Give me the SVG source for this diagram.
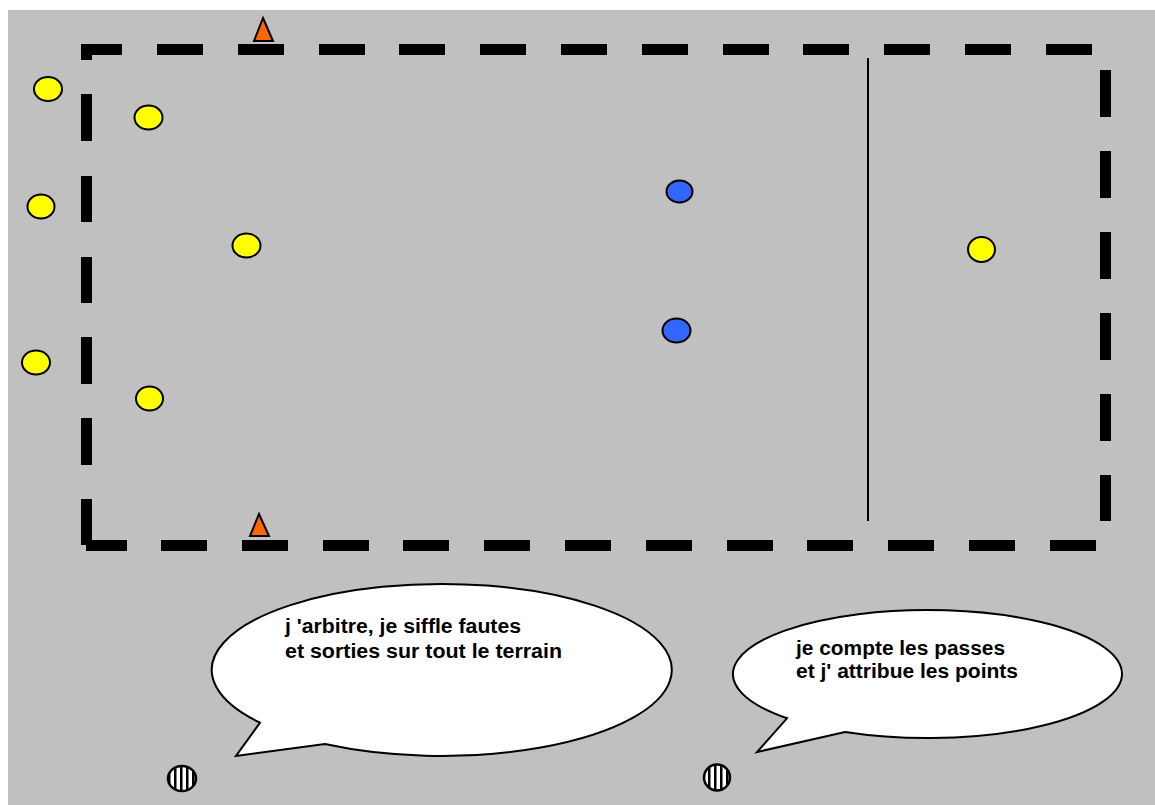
<svg xmlns="http://www.w3.org/2000/svg" width="1155" height="805" viewBox="0 0 1155 805">
<style>
.dash{fill:#000}
.yel{fill:#FFFF00;stroke:#000;stroke-width:2}
.blu{fill:#3366FF;stroke:#000;stroke-width:2}
.cone{fill:#FF6600;stroke:#000;stroke-width:2;stroke-linejoin:miter}
.bub{fill:#fff;stroke:#000;stroke-width:2}
.txt{font-family:"Liberation Sans",Arial,sans-serif;font-weight:bold;font-size:19.5px;fill:#000}
.ref{fill:url(#stripes);stroke:#000;stroke-width:2.5}
</style>
<defs>
<pattern id="stripes" patternUnits="userSpaceOnUse" width="6" height="6">
<rect x="0" y="0" width="6" height="6" fill="#fff"/>
<rect x="0" y="0" width="2.5" height="6" fill="#000"/>
</pattern>
</defs>
<rect x="0" y="0" width="1155" height="805" fill="#fff"/>
<rect x="8" y="10" width="1147" height="795" fill="#C0C0C0"/>
<g id="field">
<rect class="dash" x="81" y="44" width="41" height="11"/>
<rect class="dash" x="81" y="44" width="11" height="16"/>
<rect class="dash" x="157" y="44" width="46" height="11"/>
<rect class="dash" x="238" y="44" width="46" height="11"/>
<rect class="dash" x="319" y="44" width="46" height="11"/>
<rect class="dash" x="399" y="44" width="46" height="11"/>
<rect class="dash" x="480" y="44" width="46" height="11"/>
<rect class="dash" x="561" y="44" width="46" height="11"/>
<rect class="dash" x="642" y="44" width="46" height="11"/>
<rect class="dash" x="723" y="44" width="46" height="11"/>
<rect class="dash" x="803" y="44" width="46" height="11"/>
<rect class="dash" x="884" y="44" width="46" height="11"/>
<rect class="dash" x="965" y="44" width="46" height="11"/>
<rect class="dash" x="1046" y="44" width="46" height="11"/>
<rect class="dash" x="81" y="94" width="11" height="47"/>
<rect class="dash" x="81" y="176" width="11" height="46"/>
<rect class="dash" x="81" y="257" width="11" height="46"/>
<rect class="dash" x="81" y="337" width="11" height="47"/>
<rect class="dash" x="81" y="418" width="11" height="47"/>
<rect class="dash" x="81" y="499" width="11" height="46"/>
<rect class="dash" x="86" y="540" width="41" height="11"/>
<rect class="dash" x="161" y="540" width="46" height="11"/>
<rect class="dash" x="242" y="540" width="46" height="11"/>
<rect class="dash" x="323" y="540" width="46" height="11"/>
<rect class="dash" x="403" y="540" width="46" height="11"/>
<rect class="dash" x="484" y="540" width="46" height="11"/>
<rect class="dash" x="565" y="540" width="46" height="11"/>
<rect class="dash" x="646" y="540" width="46" height="11"/>
<rect class="dash" x="727" y="540" width="46" height="11"/>
<rect class="dash" x="807" y="540" width="46" height="11"/>
<rect class="dash" x="888" y="540" width="46" height="11"/>
<rect class="dash" x="969" y="540" width="46" height="11"/>
<rect class="dash" x="1050" y="540" width="46" height="11"/>
<rect class="dash" x="1100" y="70" width="11" height="47"/>
<rect class="dash" x="1100" y="151" width="11" height="47"/>
<rect class="dash" x="1100" y="232" width="11" height="47"/>
<rect class="dash" x="1100" y="313" width="11" height="47"/>
<rect class="dash" x="1100" y="394" width="11" height="47"/>
<rect class="dash" x="1100" y="475" width="11" height="46"/>
<line x1="868" y1="58" x2="868" y2="521" stroke="#000" stroke-width="2"/>
</g>
<g id="cones">
<polygon class="cone" points="263,18 273,41 254,41"/>
<polygon class="cone" points="259,514 269,536 250,536"/>
</g>
<g id="players">
<ellipse class="yel" cx="48" cy="89" rx="14" ry="12"/>
<ellipse class="yel" cx="148.5" cy="117.5" rx="14" ry="12"/>
<ellipse class="yel" cx="41" cy="206.5" rx="13.5" ry="12"/>
<ellipse class="yel" cx="246.5" cy="245.5" rx="14" ry="12"/>
<ellipse class="yel" cx="36" cy="362.5" rx="14" ry="12"/>
<ellipse class="yel" cx="149.5" cy="398.5" rx="13.5" ry="12"/>
<ellipse class="yel" cx="981.5" cy="249.5" rx="13.5" ry="12.5"/>
<ellipse class="blu" cx="679.5" cy="191.5" rx="13" ry="11"/>
<ellipse class="blu" cx="676.5" cy="330.5" rx="14" ry="12"/>
</g>
<g id="bubble1">
<path class="bub" d="M260,722.6 A230,86 0 1 1 325,744 L236,756 Z"/>
<text class="txt" x="285" y="633" textLength="236" lengthAdjust="spacingAndGlyphs">j 'arbitre, je siffle fautes</text>
<text class="txt" x="285" y="658" textLength="277" lengthAdjust="spacingAndGlyphs">et sorties sur tout le terrain</text>
</g>
<g id="bubble2">
<path class="bub" d="M787,718.3 A194.5,64 0 1 1 845,732 L757,752 Z"/>
<text class="txt" x="796" y="655" textLength="209" lengthAdjust="spacingAndGlyphs">je compte les passes</text>
<text class="txt" x="796" y="678" textLength="222" lengthAdjust="spacingAndGlyphs">et j' attribue les points</text>
</g>
<g id="referees">
<ellipse class="ref" cx="182" cy="778.5" rx="14" ry="12.5"/>
<ellipse class="ref" cx="717" cy="777.5" rx="13" ry="13"/>
</g>
</svg>
